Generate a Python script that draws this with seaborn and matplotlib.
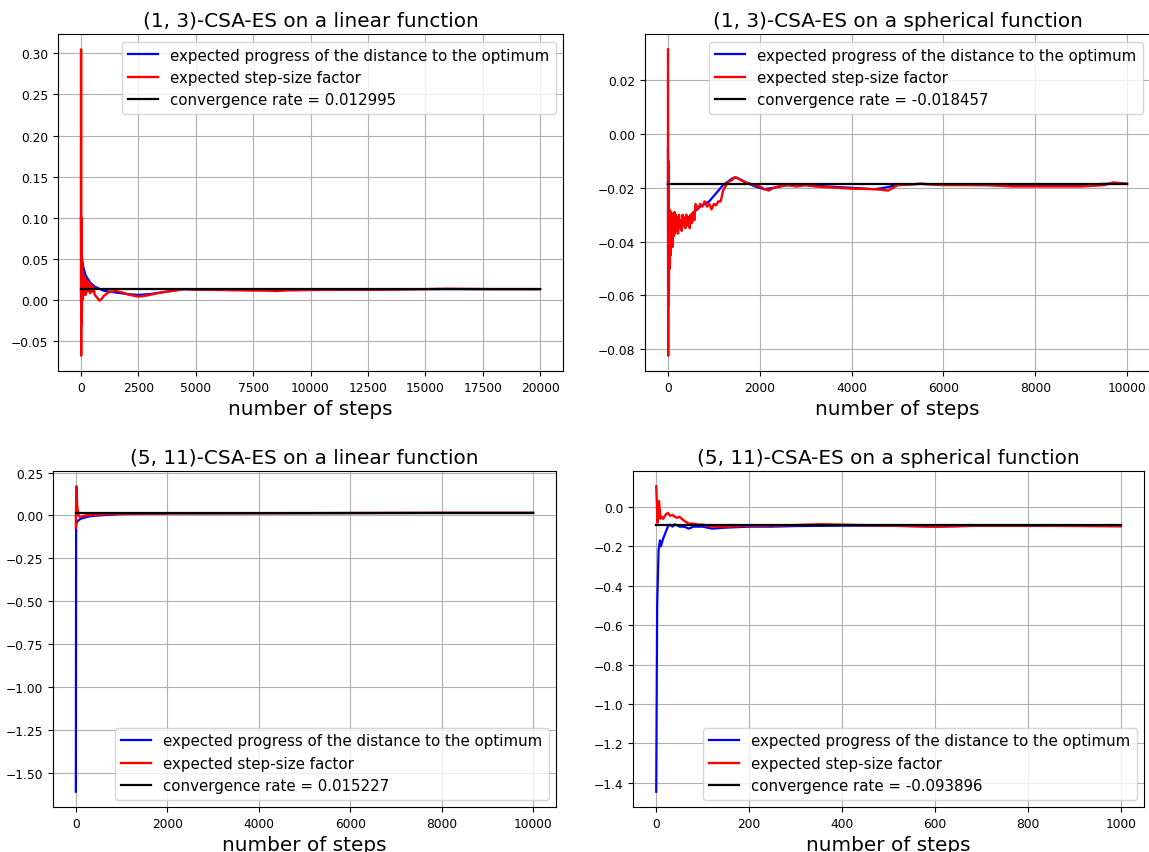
import matplotlib
matplotlib.use("Agg")
import matplotlib.pyplot as plt
import seaborn as sns
import pandas as pd

# ---------------- data ----------------
titles = ["(1, 3)-CSA-ES on a linear function",
          "(1, 3)-CSA-ES on a spherical function",
          "(5, 11)-CSA-ES on a linear function",
          "(5, 11)-CSA-ES on a spherical function"]
label_progress = "expected progress of the distance to the optimum"
label_stepsize = "expected step-size factor"
n_steps = [20000, 10000, 10000, 1000]
conv_rates = [0.012995, -0.018457, 0.015227, -0.093896]

# panel 1: (1,3) linear
p1_blue_x = [0, 10, 20, 50, 100, 200, 400, 600, 1000, 1500, 2000, 2500, 3000, 3500, 4000, 4500,
             5000, 7500, 10000, 12500, 15000, 17500, 20000]
p1_blue_y = [0.100, 0.060, 0.055, 0.050, 0.040, 0.030, 0.021, 0.016, 0.011, 0.009, 0.007, 0.006,
             0.007, 0.009, 0.011, 0.013, 0.0125, 0.012, 0.012, 0.0125, 0.013, 0.013, 0.013]
p1_red_x = [0, 5, 10, 15, 20, 30, 40, 50, 60, 80, 100, 120, 150, 180, 200, 250, 300, 350, 400,
            450, 500, 550, 600, 700, 800, 900, 1000, 1200, 1500, 1800, 2000, 2300, 2500, 2800,
            3000, 3500, 4000, 4500, 5000, 6000, 7000, 8000, 8500, 9000, 10000, 11000, 12000,
            13000, 14000, 15000, 16000, 17000, 18000, 19000, 20000]
p1_red_y = [0.000, 0.305, -0.068, 0.100, -0.030, 0.050, -0.010, 0.035, 0.000, 0.032, 0.005,
            0.030, 0.010, 0.026, 0.006, 0.024, 0.010, 0.022, 0.008, 0.018, 0.010, 0.015, 0.006,
            0.003, -0.001, 0.001, 0.005, 0.009, 0.011, 0.009, 0.007, 0.005, 0.004, 0.005, 0.006,
            0.009, 0.011, 0.013, 0.0125, 0.012, 0.0115, 0.0112, 0.0108, 0.0115, 0.012, 0.0122,
            0.0125, 0.0123, 0.0127, 0.013, 0.0135, 0.0132, 0.013, 0.013, 0.013]

# panel 2: (1,3) spherical
p2_blue_x = [0, 3, 10, 30, 60, 100, 150, 200, 300, 400, 500, 700, 900, 1000, 1200, 1400, 1500,
             1700, 1900, 2100, 2300, 2600, 3000, 3500, 4000, 4500, 4700, 5000, 5500, 6000, 7000,
             8000, 9000, 9500, 10000]
p2_blue_y = [-0.005, -0.064, -0.050, -0.045, -0.040, -0.037, -0.036, -0.035, -0.033, -0.032,
             -0.030, -0.027, -0.025, -0.023, -0.019, -0.0165, -0.0162, -0.018, -0.0195, -0.0205,
             -0.020, -0.019, -0.019, -0.0195, -0.020, -0.0205, -0.020, -0.019, -0.0185, -0.0188,
             -0.019, -0.0192, -0.019, -0.0185, -0.0185]
p2_red_x = [0, 5, 10, 20, 30, 40, 50, 60, 70, 80, 90, 100, 110, 125, 140, 155, 170, 185, 200,
            220, 240, 260, 280, 300, 320, 340, 360, 380, 400, 425, 450, 475, 500, 525, 550, 575,
            600, 650, 700, 750, 800, 850, 900, 950, 1000, 1050, 1100, 1150, 1200, 1300,
            1400, 1450, 1500, 1600, 1700, 1800, 1900, 2000, 2100, 2200, 2300, 2400, 2600, 2800,
            3000, 3200, 3500, 4000, 4500, 4800, 5000, 5500, 6000, 6500, 7000, 7500, 8000, 8500,
            9000, 9500, 9700, 10000]
p2_red_y = [0.0315, -0.0824, -0.010, -0.058, -0.028, -0.050, -0.036, -0.045, -0.029, -0.041,
            -0.031, -0.042, -0.030, -0.038, -0.029, -0.037, -0.030, -0.036, -0.031, -0.037,
            -0.030, -0.035, -0.032, -0.036, -0.030, -0.034, -0.031, -0.035, -0.030, -0.034,
            -0.031, -0.035, -0.030, -0.033, -0.029, -0.032, -0.026, -0.028, -0.026, -0.027,
            -0.025, -0.027, -0.026, -0.028, -0.026, -0.0265, -0.025, -0.025, -0.021, -0.018,
            -0.017, -0.016, -0.0163, -0.0172, -0.018, -0.0185, -0.019, -0.0195, -0.0205, -0.021,
            -0.020, -0.0195, -0.019, -0.0195, -0.019, -0.0195, -0.0198, -0.0203, -0.0205, -0.021,
            -0.019, -0.0185, -0.019, -0.019, -0.019, -0.0195, -0.0195, -0.0195, -0.0195, -0.019,
            -0.018, -0.0185]

# panel 3: (5,11) linear
p3_blue_x = [0, 5, 10, 30, 50, 100, 200, 300, 500, 1000, 2000, 4000, 6000, 8000, 10000]
p3_blue_y = [-1.61, -0.06, -0.05, -0.035, -0.030, -0.020, -0.012, -0.005, 0.000, 0.008,
             0.012, 0.013, 0.014, 0.015, 0.015]
p3_red_x = [0, 10, 30, 60, 100, 150, 200, 400, 1000, 2000, 4000, 6000, 8000, 10000]
p3_red_y = [-0.07, 0.17, 0.05, 0.000, -0.010, -0.005, 0.000, 0.005, 0.010, 0.012, 0.013,
            0.014, 0.015, 0.015]

# panel 4: (5,11) spherical
p4_blue_x = [0, 2, 5, 8, 10, 15, 20, 25, 30, 35, 40, 50, 60, 70, 80, 100, 120, 150, 200, 250,
             300, 400, 500, 600, 700, 800, 1000]
p4_blue_y = [-1.446, -0.50, -0.22, -0.17, -0.20, -0.16, -0.13, -0.10, -0.09, -0.10, -0.088,
             -0.10, -0.10, -0.11, -0.10, -0.10, -0.11, -0.105, -0.10, -0.10, -0.097, -0.095,
             -0.095, -0.10, -0.095, -0.095, -0.097]
p4_red_x = [0, 3, 6, 9, 12, 15, 20, 25, 30, 35, 40, 45, 50, 55, 60, 70, 80, 90, 100, 120, 150,
            200, 250, 300, 350, 400, 500, 600, 700, 800, 1000]
p4_red_y = [0.105, -0.08, 0.03, -0.06, -0.05, -0.06, -0.04, -0.03, -0.045, -0.04, -0.05,
            -0.055, -0.05, -0.06, -0.07, -0.085, -0.085, -0.09, -0.09, -0.10, -0.10, -0.095,
            -0.095, -0.092, -0.088, -0.09, -0.095, -0.10, -0.095, -0.095, -0.098]

panels = [
    (p1_blue_x, p1_blue_y, p1_red_x, p1_red_y, "upper right"),
    (p2_blue_x, p2_blue_y, p2_red_x, p2_red_y, "upper right"),
    (p3_blue_x, p3_blue_y, p3_red_x, p3_red_y, "lower right"),
    (p4_blue_x, p4_blue_y, p4_red_x, p4_red_y, "lower right"),
]

# ---------------- figure ----------------
W, H, DPI = 1149, 853, 100
fig = plt.figure(figsize=(W / DPI, H / DPI), dpi=DPI)
fig.patch.set_facecolor("white")

# axes boxes in pixels: left, top, right, bottom
boxes = [(58, 35, 563, 372), (645, 35, 1150, 372), (53, 472, 556, 808), (633, 472, 1144, 808)]

for i, (bx, by, rx, ry, loc) in enumerate(panels):
    l, t, r, b = boxes[i]
    ax = fig.add_axes([l / W, 1 - b / H, (r - l) / W, (b - t) / H])
    df_b = pd.DataFrame({"x": bx, "y": by})
    df_r = pd.DataFrame({"x": rx, "y": ry})
    df_k = pd.DataFrame({"x": [0, n_steps[i]], "y": [conv_rates[i]] * 2})
    sns.lineplot(data=df_b, x="x", y="y", color="blue", lw=1.6, ax=ax,
                 label=label_progress, estimator=None, sort=False)
    sns.lineplot(data=df_r, x="x", y="y", color="red", lw=1.7, ax=ax,
                 label=label_stepsize, estimator=None, sort=False)
    sns.lineplot(data=df_k, x="x", y="y", color="black", lw=1.6, ax=ax,
                 label="convergence rate = %.6f" % conv_rates[i], estimator=None)
    ax.grid(True, color="#b0b0b0", lw=0.8)
    ax.set_axisbelow(True)
    ax.set_title(titles[i], fontsize=14.4)
    ax.set_xlabel("number of steps", fontsize=14.4)
    ax.set_ylabel("")
    ax.tick_params(labelsize=8.8)
    ax.legend(loc=loc, fontsize=10.8)

fig.savefig("out.png", dpi=DPI, facecolor="white")
